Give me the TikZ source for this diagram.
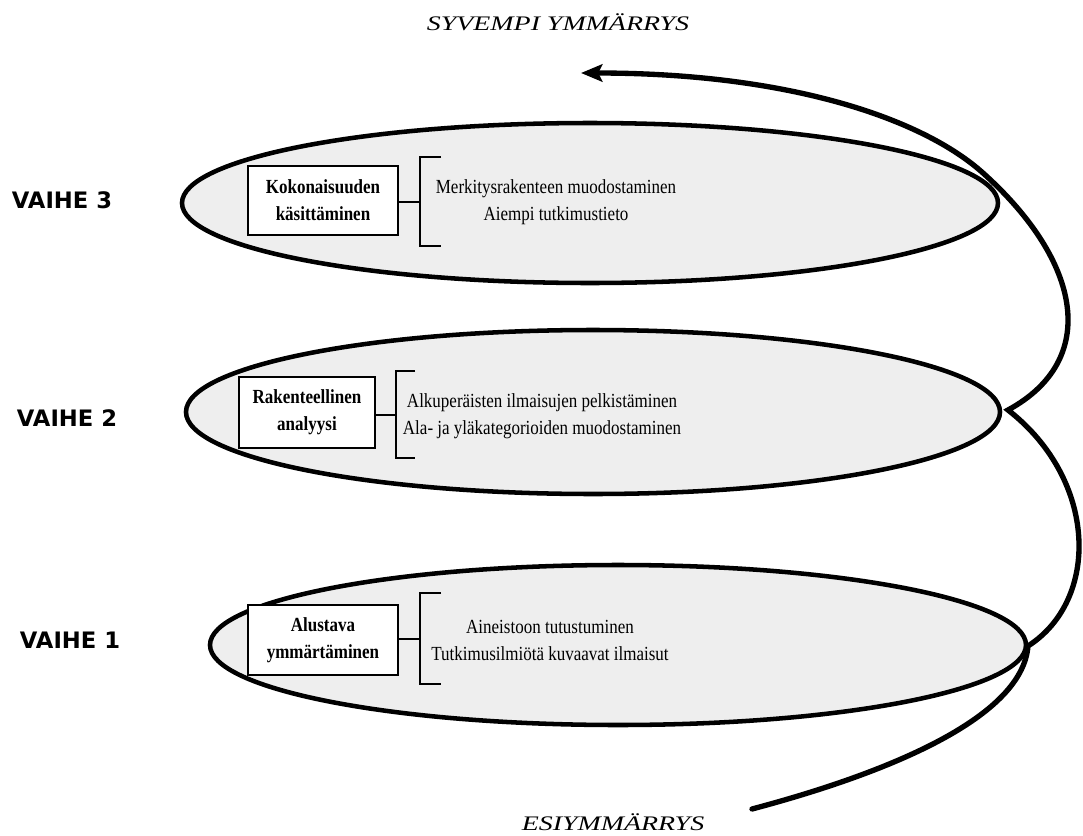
\documentclass[tikz,border=0pt]{standalone}
\usepackage{fontspec}
\setmainfont{Liberation Serif}[FakeStretch=0.85]
\newfontfamily\itlab{Liberation Serif}[FakeStretch=1.35]
\newfontfamily\vaihefont{DejaVu Sans}
\usetikzlibrary{arrows.meta}
\definecolor{ellfill}{HTML}{EEEEEE}
\tikzset{
  ell/.style={draw=black, line width=3.4pt, fill=ellfill},
  boxnode/.style={draw=black, line width=1.1pt, fill=white, align=center, inner sep=0pt,
    font=\fontsize{15}{20.25}\selectfont\bfseries},
  itemtext/.style={align=center, inner sep=0pt, font=\fontsize{15}{20.25}\selectfont},
  brack/.style={line width=1.6pt},
  phase/.style={font=\vaihefont\fontsize{17}{19}\selectfont\bfseries, inner sep=0pt},
  endlab/.style={font=\itlab\fontsize{15.5}{18}\selectfont\itshape, inner sep=0pt},
  spiral/.style={line width=4pt, line cap=round, line join=miter}
}
\begin{document}
\begin{tikzpicture}[x=0.75pt, y=-0.75pt]
\useasboundingbox (0,0) rectangle (1083,836);

% ellipses
\draw[ell] (590,203) ellipse [x radius=408, y radius=80];
\draw[ell] (593,412) ellipse [x radius=407, y radius=82];
\draw[ell] (618,645) ellipse [x radius=408, y radius=80];

% spiral
\coordinate (sstart) at (752,809);
\coordinate (tip1) at (1028,646);
\coordinate (tip2) at (1008,410);
\coordinate (cross3) at (983,173);
\coordinate (send) at (581,73);
\draw[spiral, -{Stealth[length=16pt, width=13pt, inset=3pt]}]
  (sstart) .. controls (880,775) and (1022,720) .. (tip1)
  .. controls (1100,600) and (1098,480) .. (tip2)
  .. controls (1100,360) and (1082,262) .. (cross3)
  .. controls (923,119) and (790,73) .. (send);

% phase labels
\node[phase] (v3) at (62,200) {VAIHE 3};
\node[phase] (v2) at (67,418) {VAIHE 2};
\node[phase] (v1) at (70,640) {VAIHE 1};

% end labels
\node[endlab] (top) at (558,22) {SYVEMPI YMMÄRRYS};
\node[endlab] (bot) at (613,822) {ESIYMMÄRRYS};

% phase 3
\node[boxnode, minimum width=112.5pt, minimum height=51.75pt] (b3) at (323,200.5) {Kokonaisuuden\\käsittäminen};
\coordinate (k3) at (420,202);
\draw[brack] (b3.east |- k3) -- (k3);
\draw[brack] (441,157) -- (420,157) -- (420,246) -- (441,246);
\node[itemtext] (t3) at (556,202) {Merkitysrakenteen muodostaminen\\Aiempi tutkimustieto};

% phase 2
\node[boxnode, minimum width=102pt, minimum height=53.25pt] (b2) at (307,412.5) {Rakenteellinen\\analyysi};
\coordinate (k2) at (396,415);
\draw[brack] (b2.east |- k2) -- (k2);
\draw[brack] (415,371) -- (396,371) -- (396,458) -- (415,458);
\node[itemtext] (t2) at (542,416) {Alkuperäisten ilmaisujen pelkistäminen\\Ala- ja yläkategorioiden muodostaminen};

% phase 1
\node[boxnode, minimum width=112.5pt, minimum height=52.5pt] (b1) at (323,640) {Alustava\\ymmärtäminen};
\coordinate (k1) at (420,639);
\draw[brack] (b1.east |- k1) -- (k1);
\draw[brack] (441,593) -- (420,593) -- (420,684) -- (441,684);
\node[itemtext] (t1) at (550,640) {Aineistoon tutustuminen\\Tutkimusilmiötä kuvaavat ilmaisut};
\end{tikzpicture}
\end{document}
